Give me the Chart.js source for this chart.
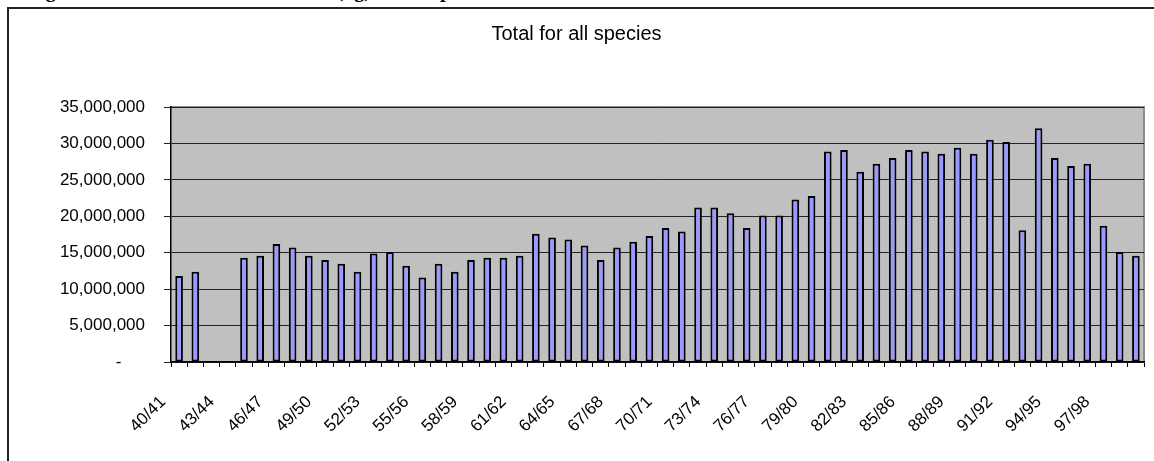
<!DOCTYPE html>
<html>
<head>
<meta charset="utf-8">
<script src="https://cdn.jsdelivr.net/npm/chart.js@4.4.1/dist/chart.umd.min.js"></script>
<style>
    body { margin: 0; background: #fff; overflow: hidden; width: 1154px; height: 461px; position: relative; }
    #heading {
        position: absolute; left: 28px; top: -20px;
        font: bold 20px "Liberation Serif", "Times New Roman", serif;
        line-height: 20px; white-space: nowrap; color: #000;
    }
    #frame {
        position: absolute; left: 7px; top: 7px; width: 1160px; height: 470px;
        border-left: 2px solid #222; border-top: 2px solid #222;
    }
    #chart { position: absolute; left: 0; top: 0; }
</style>
</head>
<body>
<div id="heading">Figure 1: Total annual landed catch (kg) for all species</div>
<div id="frame">
    <canvas id="chart" width="1145" height="452"></canvas>
</div>
<script>
const seasons = [
    '40/41', '41/42', '42/43', '43/44', '44/45', '45/46', '46/47', '47/48', '48/49', '49/50',
    '50/51', '51/52', '52/53', '53/54', '54/55', '55/56', '56/57', '57/58', '58/59', '59/60',
    '60/61', '61/62', '62/63', '63/64', '64/65', '65/66', '66/67', '67/68', '68/69', '69/70',
    '70/71', '71/72', '72/73', '73/74', '74/75', '75/76', '76/77', '77/78', '78/79', '79/80',
    '80/81', '81/82', '82/83', '83/84', '84/85', '85/86', '86/87', '87/88', '88/89', '89/90',
    '90/91', '91/92', '92/93', '93/94', '94/95', '95/96', '96/97', '97/98', '98/99', '99/00'
];

// total for all species, no records for 42/43 and 43/44
const totals = [
    11800000, 12400000, null, null, 14300000, 14600000, 16200000, 15700000, 14600000, 14000000,
    13500000, 12400000, 14900000, 15100000, 13200000, 11600000, 13500000, 12400000, 14000000, 14300000,
    14300000, 14600000, 17600000, 17100000, 16800000, 16000000, 14000000, 15700000, 16500000, 17300000,
    18400000, 17900000, 21200000, 21200000, 20400000, 18400000, 20100000, 20100000, 22300000, 22800000,
    28900000, 29100000, 26100000, 27200000, 28000000, 29100000, 28900000, 28600000, 29400000, 28600000,
    30500000, 30200000, 18100000, 32100000, 28000000, 26900000, 27200000, 18700000, 15100000, 14600000
];

const yTicks = [0, 5000000, 10000000, 15000000, 20000000, 25000000, 30000000, 35000000];

const FONT = '"Liberation Sans", Arial, sans-serif';

// grey plot area with a grey frame on top and right
const plotArea = {
    id: 'plotArea',
    beforeDraw(chart) {
        const { ctx, chartArea: a } = chart;
        ctx.save();
        ctx.fillStyle = '#c0c0c0';
        ctx.fillRect(a.left, a.top, a.right - a.left, a.bottom - a.top);
        ctx.strokeStyle = '#8c8c8c';
        ctx.lineWidth = 2;
        ctx.beginPath();
        ctx.moveTo(a.left, a.top);
        ctx.lineTo(a.right, a.top);
        ctx.lineTo(a.right, a.bottom);
        ctx.stroke();
        ctx.restore();
    }
};

new Chart(document.getElementById('chart'), {
    type: 'bar',
    data: {
        labels: seasons,
        datasets: [{
            label: 'Total for all species',
            data: totals,
            backgroundColor: '#9999ff',
            borderColor: '#000',
            borderWidth: 2,
            borderSkipped: false,
            categoryPercentage: 1,
            barPercentage: 0.47
        }]
    },
    options: {
        responsive: false,
        animation: false,
        devicePixelRatio: 1,
        layout: { padding: { left: 0, right: 10, top: 0, bottom: 0 } },
        plugins: {
            legend: { display: false },
            tooltip: { enabled: false },
            title: {
                display: true,
                text: 'Total for all species',
                color: '#000',
                font: { family: FONT, size: 20, weight: 'normal', lineHeight: 1.2 },
                padding: { top: 13, bottom: 61 }
            }
        },
        scales: {
            x: {
                afterFit(scale) {
                    scale.height = 99;
                    scale.paddingLeft = 0;
                    scale.paddingRight = 0;
                },
                grid: { drawOnChartArea: false, color: '#000', tickLength: 5, offset: true },
                border: { color: '#000', width: 1.5 },
                ticks: {
                    autoSkip: false,
                    maxRotation: 45,
                    minRotation: 45,
                    padding: 25,
                    labelOffset: -16,
                    color: '#000',
                    font: { family: FONT, size: 17 },
                    callback(value, index) {
                        return index % 3 === 0 ? seasons[index] : '';
                    }
                }
            },
            y: {
                min: 0,
                max: 35000000,
                afterFit(scale) { scale.width = 162; },
                afterBuildTicks(scale) { scale.ticks = yTicks.map(v => ({ value: v })); },
                grid: { color: '#222', lineWidth: 1, tickLength: 7 },
                border: { color: '#000', width: 1.5 },
                ticks: {
                    padding: 19,
                    color: '#000',
                    font: { family: FONT, size: 17 },
                    callback(value) {
                        return value === 0 ? '-     ' : value.toLocaleString('en-US');
                    }
                }
            }
        }
    },
    plugins: [plotArea]
});
</script>
</body>
</html>
